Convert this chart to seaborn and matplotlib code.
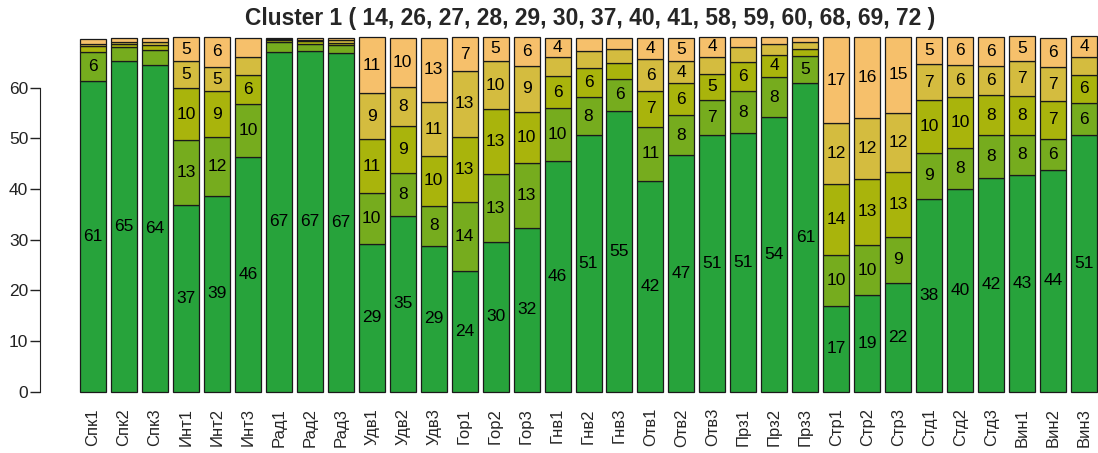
import numpy as np
import pandas as pd
import matplotlib
matplotlib.use("Agg")
import matplotlib.pyplot as plt
import seaborn as sns

# Категории (по оси X)
categories = ['Спк1', 'Спк2', 'Спк3', 'Инт1', 'Инт2', 'Инт3', 'Рад1', 'Рад2', 'Рад3',
              'Удв1', 'Удв2', 'Удв3', 'Гор1', 'Гор2', 'Гор3', 'Гнв1', 'Гнв2', 'Гнв3',
              'Отв1', 'Отв2', 'Отв3', 'Прз1', 'Прз2', 'Прз3', 'Стр1', 'Стр2', 'Стр3',
              'Стд1', 'Стд2', 'Стд3', 'Вин1', 'Вин2', 'Вин3']

# Сегменты снизу вверх
seg1 = [61.3, 65.2, 64.4, 36.8, 38.6, 46.4, 67.0, 67.2, 66.8, 29.1, 34.7, 28.75, 23.8, 29.6, 32.25,
        45.5, 50.6, 55.4, 41.6, 46.7, 50.6, 51.0, 54.2, 60.9, 17, 19, 21.5,
        38.1, 40.0, 42.2, 42.8, 43.7, 50.6]
seg2 = [5.7, 2.8, 3.0, 12.9, 11.7, 10.4, 2.0, 1.5, 1.65, 10.1, 8.4, 7.95, 13.6, 13.3, 12.8,
        10.4, 7.6, 6.4, 10.7, 7.9, 7.0, 8.35, 7.9, 5.3, 10, 10, 9,
        9.0, 8.0, 8.45, 7.9, 6.25, 6.4]
seg3 = [1.3, 0.65, 1.0, 10.2, 9.0, 5.7, 0.4, 0.45, 0.3, 10.6, 9.4, 9.8, 12.9, 12.8, 10.2,
        6.4, 5.7, 3.1, 7.0, 6.25, 5.2, 5.7, 4.4, 1.5, 14, 13, 12.8,
        10.4, 10.2, 7.9, 7.6, 7.4, 5.6]
seg4 = [0.4, 0.3, 0.65, 5.3, 4.8, 3.6, 0.25, 0.3, 0.65, 9.1, 7.7, 10.6, 13.05, 9.6, 9.0,
        3.7, 3.4, 2.7, 6.3, 4.4, 3.3, 3.0, 2.2, 1.3, 12, 12, 11.8,
        7.2, 6.25, 5.7, 6.9, 6.7, 3.55]
seg5 = [0.9, 0.9, 0.85, 4.8, 5.9, 3.8, 0.25, 0.4, 0.4, 11.05, 9.6, 12.8, 6.6, 4.8, 5.7,
        3.9, 2.6, 2.3, 4.3, 4.6, 4.0, 2.0, 1.3, 1.0, 17, 16, 14.9,
        5.3, 5.6, 5.7, 5.0, 5.8, 4.0]

colors = ['#27a33b', '#76ac1e', '#a9b40c', '#d4bc3f', '#f6c06b']
title = "Cluster 1 ( 14, 26, 27, 28, 29, 30, 37, 40, 41, 58, 59, 60, 68, 69, 72 )"

sns.set_style("ticks")
plt.rcParams['font.family'] = ['Liberation Sans', 'DejaVu Sans']

fig = plt.figure(figsize=(10.98, 4.53), dpi=100)
ax = fig.add_axes([40 / 1098, 0.113, 1058 / 1098, 0.8276])

# Стековые столбцы
bottom = np.zeros(len(categories))
for seg, col in zip([seg1, seg2, seg3, seg4, seg5], colors):
    vals = np.array(seg, dtype=float)
    df = pd.DataFrame({'cat': categories, 'val': vals})
    sns.barplot(data=df, x='cat', y='val', bottom=bottom, color=col, width=0.84,
                edgecolor='#1a1a1a', linewidth=0.9, saturation=1, ax=ax)
    for i, v in enumerate(vals):
        if v >= 3.85:
            ax.text(i, bottom[i] + v / 2, f"{round(v)}", ha='center', va='center',
                    fontsize=12.5, color='black')
    bottom = bottom + vals

ax.set_xlim(-1.71, 32.45)
ax.set_ylim(-2, 72)
ax.set_yticks(range(0, 61, 10))
ax.set_xlabel('')
ax.set_ylabel('')
ax.tick_params(axis='y', length=7.5, width=1, pad=1, labelsize=12.5, colors='#222222')
ax.tick_params(axis='x', length=0, pad=4.5, labelsize=12, rotation=90)
for lbl in ax.get_xticklabels():
    lbl.set_va('top')
ax.spines['left'].set_bounds(0, 60)
ax.spines['left'].set_color('#222222')
for s in ['top', 'right', 'bottom']:
    ax.spines[s].set_visible(False)

fig.text(590 / 1098, 1 - 18 / 453, title, ha='center', va='center',
         fontsize=16.4, fontweight='bold')

fig.savefig('out.png', dpi=100)
